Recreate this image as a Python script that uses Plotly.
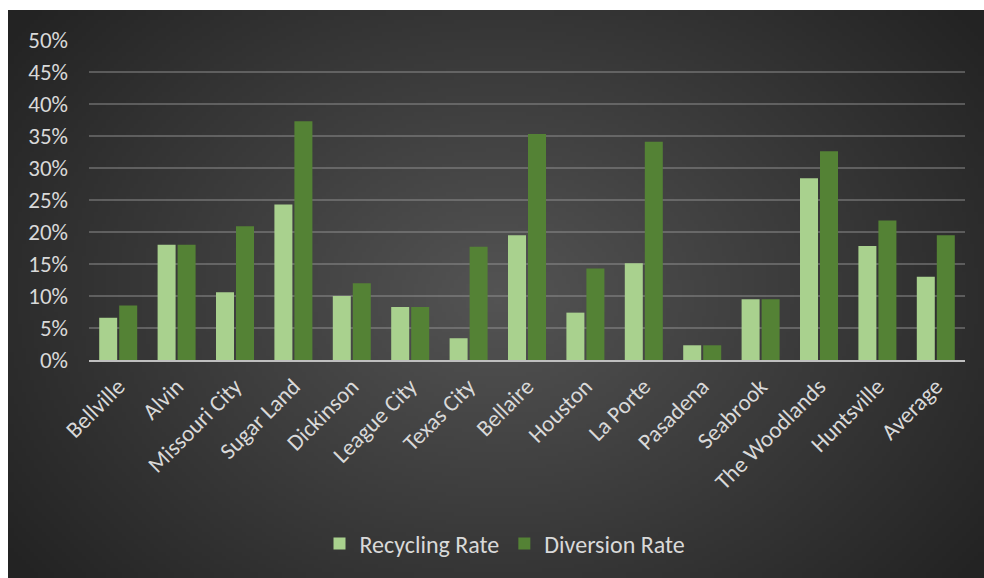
import base64, struct, zlib
import numpy as np
import plotly.graph_objects as go

cities = ["Bellville", "Alvin", "Missouri City", "Sugar Land", "Dickinson", "League City",
          "Texas City", "Bellaire", "Houston", "La Porte", "Pasadena", "Seabrook",
          "The Woodlands", "Huntsville", "Average"]
recycling_rate = [0.066, 0.180, 0.106, 0.243, 0.100, 0.083, 0.034, 0.195, 0.074, 0.151,
                  0.023, 0.095, 0.284, 0.178, 0.130]
diversion_rate = [0.085, 0.180, 0.209, 0.373, 0.120, 0.083, 0.177, 0.353, 0.143, 0.341,
                  0.023, 0.095, 0.326, 0.218, 0.195]
y_ticks = [0, 0.05, 0.10, 0.15, 0.20, 0.25, 0.30, 0.35, 0.40, 0.45, 0.50]
y_tick_labels = ["0%", "5%", "10%", "15%", "20%", "25%", "30%", "35%", "40%", "45%", "50%"]


def gradient_png(w, h):
    yy, xx = np.mgrid[0:h, 0:w]
    cx, cy = 0.50 * w, 0.50 * h
    r = np.sqrt(((xx - cx) / (0.62 * w)) ** 2 + ((yy - cy) / (0.80 * h)) ** 2)
    r = np.clip(r, 0, 1)
    v = (0x54 + (0x23 - 0x54) * r).astype(np.uint8)
    raw = b"".join(b"\x00" + v[i].tobytes() for i in range(h))

    def chunk(t, d):
        c = struct.pack(">I", len(d)) + t + d
        return c + struct.pack(">I", zlib.crc32(t + d) & 0xFFFFFFFF)

    png = b"\x89PNG\r\n\x1a\n" + chunk(b"IHDR", struct.pack(">IIBBBBB", w, h, 8, 0, 0, 0, 0)) \
        + chunk(b"IDAT", zlib.compress(raw, 9)) + chunk(b"IEND", b"")
    return "data:image/png;base64," + base64.b64encode(png).decode()


W, H = 984, 578
L, R, T, B = 89, 19, 40, 578 - 360
pw, ph = W - L - R, H - T - B

def px_x(px):
    return (px - L) / pw

def px_y(py):
    return (H - B - py) / ph

font = "Carlito, Calibri, Lato, sans-serif"
FS = 23

fig = go.Figure()
fig.add_trace(go.Bar(x=cities, y=recycling_rate, name="Recycling Rate",
                     marker=dict(color="#a9d18e", line=dict(width=0))))
fig.add_trace(go.Bar(x=cities, y=diversion_rate, name="Diversion Rate",
                     marker=dict(color="#548235", line=dict(width=0))))

fig.add_layout_image(dict(source=gradient_png(244, 142), xref="paper", yref="paper",
                          x=px_x(8), y=px_y(10), sizex=(984 - 8) / pw, sizey=(578 - 10) / ph,
                          xanchor="left", yanchor="top", sizing="stretch", layer="below"))

fig.update_layout(
    width=W, height=H,
    margin=dict(l=L, r=R, t=T, b=B, pad=0),
    paper_bgcolor="white",
    plot_bgcolor="rgba(0,0,0,0)",
    barmode="group", bargap=0.315, bargroupgap=0.1,
    font=dict(family=font, color="#d9d9d9", size=FS),
    legend=dict(orientation="h", x=px_x(505), y=px_y(544), xanchor="center", yanchor="middle",
                font=dict(size=24, color="#d9d9d9"), bgcolor="rgba(0,0,0,0)",
                itemwidth=30, traceorder="normal"),
    xaxis=dict(showgrid=False, showline=True, linecolor="#bfbfbf", linewidth=2,
               tickangle=-45, ticks="", tickfont=dict(size=FS, color="#d9d9d9"),
               ticklabelstandoff=2),
    yaxis=dict(range=[0, 0.5], tickvals=y_ticks, ticktext=y_tick_labels,
               showgrid=True, gridcolor="rgba(150,150,150,0.45)", gridwidth=1.5,
               zeroline=False, showline=False, ticks="",
               tickfont=dict(size=FS, color="#d9d9d9"), ticklabelstandoff=20),
    showlegend=True,
)

fig.write_html("out.html", config={"displayModeBar": False},
               post_script="document.body.style.margin='0';document.body.style.overflow='hidden';")
